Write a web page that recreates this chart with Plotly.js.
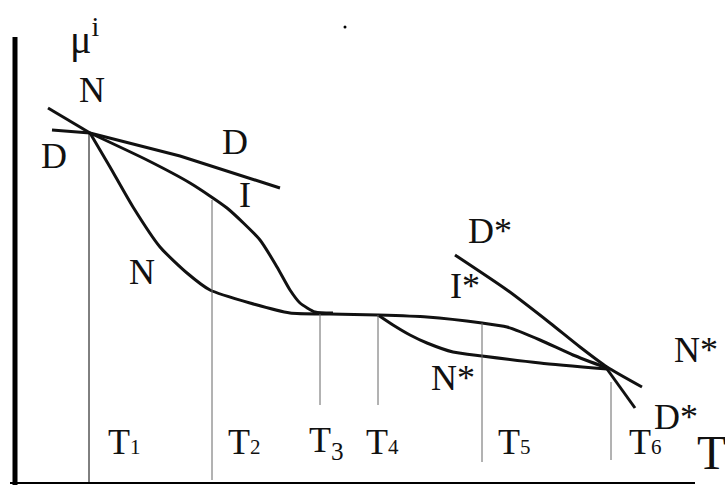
<!DOCTYPE html>
<html>
<head>
<meta charset="utf-8">
<script src="https://cdn.plot.ly/plotly-3.0.1.min.js"></script>
<style>
  html, body { margin: 0; padding: 0; background: #fff; }
  #chart { width: 725px; height: 485px; }
</style>
</head>
<body>
<div id="chart"></div>
<script>
// schematic: x = T, y = mu (screen-like units, y grows downward)
const dLineX = [52, 90, 180, 280];
const dLineY = [130, 133, 156, 188];

const nLeadX = [48, 90];
const nLeadY = [108, 133];
const nCurveX = [90, 110, 133, 160, 187, 210, 250, 290, 330, 378];
const nCurveY = [133, 167, 207, 247, 273, 290, 303, 313, 314, 315];

const iCurveX = [90, 147, 190, 227, 260, 277, 290, 300, 315, 333];
const iCurveY = [133, 160, 183, 208, 240, 267, 290, 303, 312, 313];

const iStarX = [378, 427, 482, 507, 540, 573, 607];
const iStarY = [315, 317, 323, 327, 340, 355, 368];

const nStarX = [378, 393, 410, 427, 453, 482, 540, 607];
const nStarY = [315, 325, 335, 343, 352, 356, 363, 369];
const nStarTailX = [607, 635];
const nStarTailY = [369, 408];

const dStarX = [455, 507, 550, 580, 607, 642];
const dStarY = [255, 290, 323, 347, 367, 387];

// T1..T6 markers
const tickX = [89, 212, 320, 378, 482, 611];
const tickTop = [133, 200, 314, 315, 323, 382];
const tickBottom = [482, 480, 405, 405, 462, 460];
const tickSub = ['1', '2', '3', '4', '5', '6'];
const tickLabelX = [106, 226, 307, 364, 496, 627];

const curveNames = ['N', 'D', 'D', 'I', 'N', 'D*', 'I*', 'N*', 'N*', 'D*'];
const curveLabelX = [92, 54, 235, 245, 142, 490, 465, 453, 696, 676];
const curveLabelY = [90, 156, 142, 195, 272, 231, 286, 378, 350, 417];

const serif = 'Liberation Serif, Times New Roman, serif';
const ink = '#111';

function curve(x, y, shape) {
  return {
    x: x, y: y, type: 'scatter', mode: 'lines', hoverinfo: 'skip',
    line: {color: ink, width: 3, shape: shape || 'spline', smoothing: 0.6}
  };
}

const data = [
  curve(dLineX, dLineY, 'linear'),
  curve(nLeadX, nLeadY, 'linear'),
  curve(nCurveX, nCurveY),
  curve(iCurveX, iCurveY),
  curve(iStarX, iStarY),
  curve(nStarX, nStarY),
  curve(nStarTailX, nStarTailY, 'linear'),
  curve(dStarX, dStarY)
];

tickX.forEach((x, i) => {
  data.push({
    x: [x, x], y: [tickTop[i], tickBottom[i]], type: 'scatter', mode: 'lines',
    hoverinfo: 'skip',
    line: {color: i === 0 ? '#000' : '#666', width: 1}
  });
});

// axes of the sketch
data.push({x: [15, 15], y: [37, 485], type: 'scatter', mode: 'lines', hoverinfo: 'skip',
  line: {color: '#000', width: 5}});
data.push({x: [10, 695], y: [483, 483], type: 'scatter', mode: 'lines', hoverinfo: 'skip',
  line: {color: '#000', width: 2}});
data.push({x: [345], y: [27], type: 'scatter', mode: 'markers', hoverinfo: 'skip',
  marker: {color: '#000', size: 3}});

const annotations = [];
curveNames.forEach((t, i) => {
  annotations.push({x: curveLabelX[i], y: curveLabelY[i], text: t, showarrow: false,
    xanchor: 'center', yanchor: 'middle', font: {family: serif, size: 36, color: ink}});
});
tickSub.forEach((s, i) => {
  const sub = i === 2 ? '<sub>' + s + '</sub>'
    : '<span style="font-size:21px">' + s + '</span>';
  annotations.push({x: tickLabelX[i], y: 442, text: 'T' + sub, showarrow: false,
    xanchor: 'left', yanchor: 'middle', font: {family: serif, size: 36, color: ink}});
});
annotations.push({x: 84, y: 36, text: '\u03bc<sup>i</sup>', showarrow: false,
  xanchor: 'center', yanchor: 'middle', font: {family: serif, size: 40, color: ink}});
annotations.push({x: 711, y: 452, text: 'T', showarrow: false,
  xanchor: 'center', yanchor: 'middle', font: {family: serif, size: 48, color: ink}});

const layout = {
  width: 725,
  height: 485,
  margin: {l: 0, r: 0, t: 0, b: 0},
  paper_bgcolor: '#fff',
  plot_bgcolor: '#fff',
  showlegend: false,
  xaxis: {range: [0, 725], visible: false, fixedrange: true},
  yaxis: {range: [485, 0], visible: false, fixedrange: true},
  annotations: annotations
};

Plotly.newPlot('chart', data, layout, {displayModeBar: false, staticPlot: true});
</script>
</body>
</html>
